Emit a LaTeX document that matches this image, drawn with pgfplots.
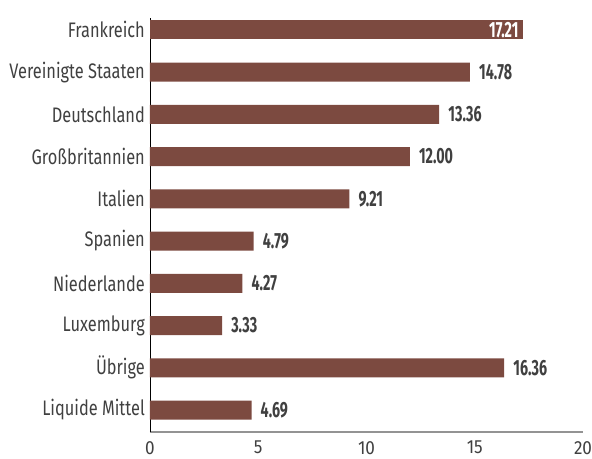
\documentclass[border=0pt]{standalone}
\usepackage{pgfplots}
\pgfplotsset{compat=1.18}
\usepackage{fontspec}
\setmainfont{Fira Sans}[FakeStretch=0.78]
\newfontfamily\valfont{Fira Sans}[FakeStretch=0.65]
\newfontfamily\tickfont{Fira Sans}[FakeStretch=0.9]
\definecolor{barc}{RGB}{124,74,64}
\definecolor{txt}{RGB}{64,64,64}
\begin{document}
\begin{tikzpicture}
\begin{axis}[name=ax, scale only axis, width=433bp, height=414bp,
 xbar, bar width=19bp, bar shift=0pt,
 xmin=0, xmax=20, ymin=-0.52, ymax=9.28,
 xtick={0,5,10,15,20}, ytick={0,...,9},
 yticklabels={Liquide Mittel, Übrige, Luxemburg, Niederlande, Spanien, Italien, Großbritannien, Deutschland, Vereinigte Staaten, Frankreich},
 axis x line*=bottom, axis y line*=left,
 x axis line style={draw=gray!85, line width=2bp, -},
 y axis line style={draw=black, line width=0.8bp, -},
 major tick length=0pt,
 tick label style={text=txt, inner sep=0pt},
 yticklabel style={font=\fontsize{21bp}{24bp}\selectfont, xshift=-5bp},
 xticklabel style={font=\tickfont\fontsize{19bp}{22bp}\selectfont, yshift=-9bp},
 /pgf/number format/assume math mode=true,
 point meta=explicit symbolic,
 nodes near coords,
 nodes near coords style={font=\valfont\bfseries\fontsize{22bp}{24bp}\selectfont, text=txt, anchor=west, inner sep=0pt, xshift=9bp},
]
\addplot[fill=barc, draw=none] coordinates {
 (4.69,0) [4.69]
 (16.36,1) [16.36]
 (3.33,2) [3.33]
 (4.27,3) [4.27]
 (4.79,4) [4.79]
 (9.21,5) [9.21]
 (12.00,6) [12.00]
 (13.36,7) [13.36]
 (14.78,8) [14.78]
};
\addplot[fill=barc, draw=none, nodes near coords style={anchor=east, text=white, xshift=-13bp}] coordinates {
 (17.21,9) [17.21]
};
\end{axis}
\pgfresetboundingbox
\path ([xshift=-150bp,yshift=-27bp]ax.south west) rectangle ([xshift=9bp,yshift=18bp]ax.north east);
\end{tikzpicture}
\end{document}
